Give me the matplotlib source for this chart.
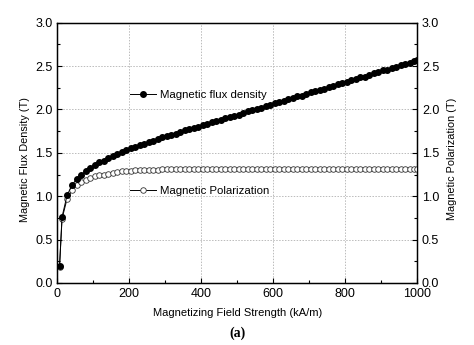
import matplotlib
matplotlib.use("Agg")
import matplotlib.pyplot as plt
from matplotlib.lines import Line2D
from matplotlib.ticker import MultipleLocator

plt.rcParams['font.family'] = ['Liberation Sans', 'DejaVu Sans']

# Magnetizing field strength (kA/m)
H = [6, 13, 27, 41, 54, 67, 80, 92, 105, 117, 130, 142, 155, 167, 180, 192,
     205, 217, 230, 242, 255, 267, 280, 292, 305, 317, 330, 342, 355, 367,
     380, 392, 405, 417, 430, 442, 455, 467, 480, 492, 505, 517, 530, 542,
     555, 567, 580, 592, 605, 617, 630, 642, 655, 667, 680, 692, 705, 717,
     730, 742, 755, 767, 780, 792, 805, 817, 830, 842, 855, 867, 880, 892,
     905, 917, 930, 942, 955, 967, 980, 992, 1000]

# Magnetic flux density (T)
B = [0.19, 0.76, 1.01, 1.13, 1.20, 1.25, 1.29, 1.33, 1.36, 1.39, 1.41, 1.44,
     1.46, 1.49, 1.51, 1.53, 1.55, 1.57, 1.59, 1.60, 1.62, 1.64, 1.66, 1.68,
     1.69, 1.71, 1.72, 1.74, 1.76, 1.77, 1.79, 1.80, 1.82, 1.83, 1.85, 1.87,
     1.88, 1.90, 1.91, 1.93, 1.94, 1.96, 1.98, 1.99, 2.01, 2.02, 2.04, 2.05,
     2.07, 2.09, 2.10, 2.12, 2.13, 2.15, 2.16, 2.18, 2.20, 2.21, 2.23, 2.24,
     2.26, 2.27, 2.29, 2.31, 2.32, 2.34, 2.35, 2.37, 2.38, 2.40, 2.42, 2.43,
     2.45, 2.46, 2.48, 2.49, 2.51, 2.53, 2.54, 2.56, 2.57]

# Magnetic polarization (T)
J = [0.18, 0.74, 0.97, 1.07, 1.13, 1.16, 1.19, 1.21, 1.23, 1.24, 1.25, 1.26,
     1.27, 1.28, 1.285, 1.29, 1.295, 1.30, 1.30, 1.30, 1.305, 1.305, 1.305,
     1.31, 1.31, 1.31, 1.31, 1.31, 1.31, 1.31, 1.31, 1.31, 1.31, 1.31, 1.31,
     1.31, 1.31, 1.31, 1.31, 1.31, 1.31, 1.31, 1.31, 1.31, 1.31, 1.31, 1.31,
     1.31, 1.31, 1.31, 1.31, 1.31, 1.31, 1.31, 1.31, 1.31, 1.31, 1.31, 1.31,
     1.31, 1.31, 1.31, 1.31, 1.31, 1.31, 1.31, 1.31, 1.31, 1.31, 1.31, 1.31,
     1.31, 1.31, 1.31, 1.31, 1.31, 1.31, 1.31, 1.31, 1.31, 1.31]

fig = plt.figure(figsize=(4.74, 3.45), dpi=100)
ax = fig.add_axes([0.121, 0.180, 0.759, 0.754])

ax.plot(H, J, '-o', color='black', mfc='white', mec='#333333', ms=4.0,
        mew=0.6, lw=0.7, zorder=3)
ax.plot(H, B, '-o', color='black', mfc='black', mec='black', ms=4.0,
        lw=0.7, zorder=4)

ax.set_xlim(0, 1000)
ax.set_ylim(0, 3.0)
ax.xaxis.set_major_locator(MultipleLocator(200))
ax.xaxis.set_minor_locator(MultipleLocator(100))
ax.yaxis.set_major_locator(MultipleLocator(0.5))
ax.yaxis.set_minor_locator(MultipleLocator(0.25))
ax.grid(True, which='major', ls=(0, (1.5, 1.5)), color='#bbbbbb', lw=0.7)
ax.tick_params(which='both', direction='in', labelsize=9, width=0.8)
ax.tick_params(which='major', length=3.5)
ax.tick_params(which='minor', length=2)
ax.tick_params(axis='x', pad=4)
for s in ax.spines.values():
    s.set_linewidth(1.0)

ax.set_xlabel('Magnetizing Field Strength (kA/m)', fontsize=8.0)
ax.xaxis.set_label_coords(0.5, -0.096)
ax.set_ylabel('Magnetic Flux Density (T)', fontsize=7.8)
ax.yaxis.set_label_coords(-0.076, 0.476)

ax2 = ax.twinx()
ax2.set_ylim(0, 3.0)
ax2.yaxis.set_major_locator(MultipleLocator(0.5))
ax2.yaxis.set_minor_locator(MultipleLocator(0.25))
ax2.tick_params(which='both', direction='in', labelsize=9, width=0.8)
ax2.tick_params(which='major', length=3.5)
ax2.tick_params(which='minor', length=2)
ax2.set_ylabel('Magnetic Polarization (T)', fontsize=7.8)
ax2.yaxis.set_label_coords(1.083, 0.476)

h_b = Line2D([], [], color='black', marker='o', mfc='black', ms=4.0, lw=0.7)
h_j = Line2D([], [], color='black', marker='o', mfc='white', mec='#333333',
             ms=4.0, mew=0.6, lw=0.7)
leg1 = ax.legend([h_b], ['Magnetic flux density'], loc='center left',
                 bbox_to_anchor=(0.19, 0.722), frameon=False, fontsize=8.2,
                 handlelength=2.3, handletextpad=0.3, borderaxespad=0)
ax.add_artist(leg1)
ax.legend([h_j], ['Magnetic Polarization'], loc='center left',
          bbox_to_anchor=(0.19, 0.355), frameon=False, fontsize=8.2,
          handlelength=2.3, handletextpad=0.3, borderaxespad=0)

fig.text(0.5, 0.035, '(a)', ha='center', va='center', fontsize=10,
         fontweight='bold', family=['Liberation Serif', 'DejaVu Serif'])

fig.savefig('out.png', dpi=100)
